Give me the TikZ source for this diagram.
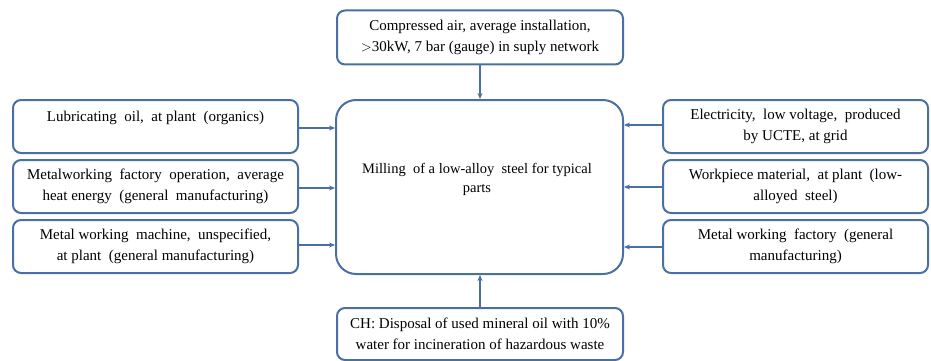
\documentclass[tikz,border=0pt]{standalone}
\usepackage{fontspec}
\setmainfont{Liberation Serif}
\usetikzlibrary{arrows.meta}
\definecolor{frame}{RGB}{74,112,163}
\begin{document}
\begin{tikzpicture}[x=1pt,y=-1pt,
  box/.style={draw=frame,line width=2pt,rounded corners=8pt,fill=white,
    inner sep=0pt,align=center,font=\fontsize{15}{21}\selectfont},
  flow/.style={draw=frame,line width=1.8pt,-{Stealth[length=6pt,width=5pt]}},
  txt/.style={inner sep=0pt,align=center,font=\fontsize{14.5}{19}\selectfont}]
\useasboundingbox (0,0) rectangle (931,361);
% central process
\node[box,rounded corners=20pt,minimum width=287pt,minimum height=174pt] (mill) at (479.5,187) {};
\node[txt] (milltext) at (477,179) {Milling~ of a low-alloy~ steel for typical\\parts};
% top and bottom inputs
\node[box,minimum width=286pt,minimum height=54pt] (air) at (480,37.5)
  {Compressed air, average installation,\\${>}$30kW, 7 bar (gauge) in suply network};
\node[box,minimum width=286pt,minimum height=52pt] (oil) at (480,334)
  {CH: Disposal of used mineral oil with 10\%\\water for incineration of hazardous waste};
% left inputs
\node[box,minimum width=285pt,minimum height=53pt] (lub) at (155.5,126.5)
  {Lubricating~ oil,~ at plant~ (organics)\\~};
\node[box,minimum width=285pt,minimum height=53pt] (heat) at (155.5,186.5)
  {Metalworking~ factory~ operation,~ average\\heat energy~ (general~ manufacturing)};
\node[box,minimum width=285pt,minimum height=53pt] (mach) at (155.5,246.5)
  {Metal working~ machine,~ unspecified,\\at plant~ (general manufacturing)};
% right inputs
\node[box,minimum width=265pt,minimum height=53pt] (elec) at (795.5,126.5)
  {Electricity,~ low voltage,~ produced\\by UCTE, at grid};
\node[box,minimum width=265pt,minimum height=53pt] (work) at (795.5,186.5)
  {Workpiece material,~ at plant~ (low-\\alloyed~ steel)};
\node[box,minimum width=265pt,minimum height=53pt] (fact) at (795.5,246.5)
  {Metal working~ factory~ (general\\manufacturing)};
% flows into the process
\draw[flow] (air.south) -- (air.south |- mill.north);
\draw[flow] (oil.north) -- (oil.north |- mill.south);
\draw[flow] ([yshift=-1.5pt]lub.east) -- ([yshift=-1.5pt]lub.east -| mill.west);
\draw[flow] ([yshift=-1.5pt]heat.east) -- ([yshift=-1.5pt]heat.east -| mill.west);
\draw[flow] ([yshift=1.5pt]mach.east) -- ([yshift=1.5pt]mach.east -| mill.west);
\draw[flow] ([yshift=1.5pt]elec.west) -- ([yshift=1.5pt]elec.west -| mill.east);
\draw[flow] ([yshift=-0.5pt]work.west) -- ([yshift=-0.5pt]work.west -| mill.east);
\draw[flow] ([yshift=-0.5pt]fact.west) -- ([yshift=-0.5pt]fact.west -| mill.east);
\end{tikzpicture}
\end{document}
